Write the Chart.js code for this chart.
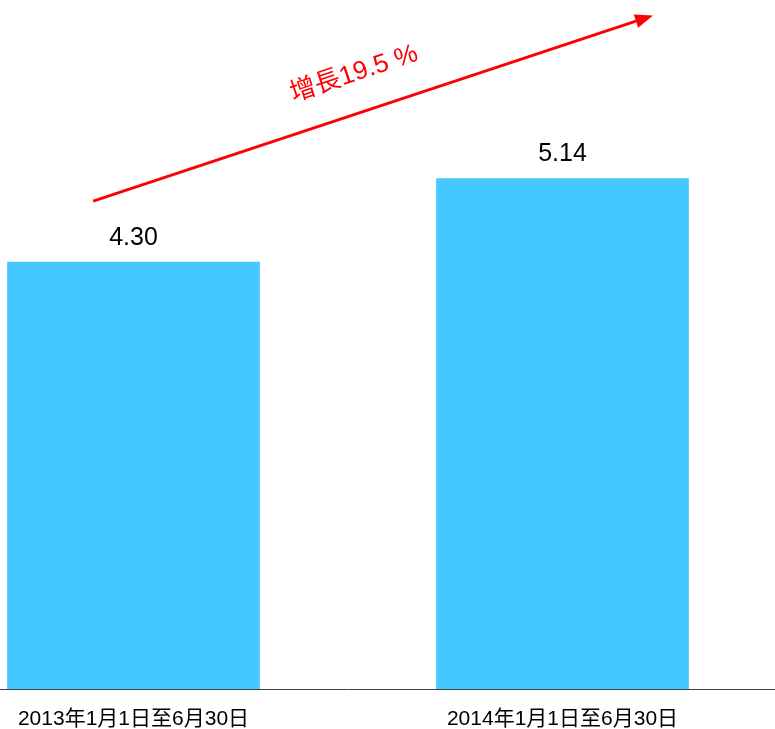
<!DOCTYPE html>
<html>
<head>
<meta charset="utf-8">
<script src="https://cdn.jsdelivr.net/npm/chart.js@4/dist/chart.umd.min.js"></script>
<style>
  html, body { margin: 0; padding: 0; background: #fff; overflow: hidden; }
  #wrap { position: absolute; left: -81px; top: 0; width: 858px; height: 729px; }
</style>
</head>
<body>
<div id="wrap"><canvas id="c"></canvas></div>
<script>
// Half-year totals
const periods = ['2013年1月1日至6月30日', '2014年1月1日至6月30日'];
const totals = [4.30, 5.14];
const growthLabel = '增長19.5 %';
// Growth arrow, in axis units: [category index, value]
const arrowFrom = [-0.094, 4.91];
const arrowTo = [1.211, 6.78];
const growthAnchor = [0.514, 6.19];

const FONT = '"Liberation Sans", Arial, "Noto Sans CJK TC", sans-serif';

const valueLabels = {
  id: 'valueLabels',
  afterDatasetsDraw(chart) {
    const ctx = chart.ctx;
    const meta = chart.getDatasetMeta(0);
    ctx.save();
    ctx.font = '25px ' + FONT;
    ctx.fillStyle = '#000';
    ctx.textAlign = 'center';
    ctx.textBaseline = 'alphabetic';
    meta.data.forEach((bar, i) => {
      ctx.fillText(totals[i].toFixed(2), bar.x, bar.y - 17);
    });
    ctx.restore();
  }
};

const growthArrow = {
  id: 'growthArrow',
  afterDraw(chart) {
    const ctx = chart.ctx;
    const xs = chart.scales.x, ys = chart.scales.y;
    const x1 = xs.getPixelForValue(arrowFrom[0]), y1 = ys.getPixelForValue(arrowFrom[1]);
    const x2 = xs.getPixelForValue(arrowTo[0]), y2 = ys.getPixelForValue(arrowTo[1]);
    const ang = Math.atan2(y2 - y1, x2 - x1);
    const headLen = 18, headW = 7;
    ctx.save();
    ctx.strokeStyle = '#ff0000';
    ctx.fillStyle = '#ff0000';
    ctx.lineWidth = 3;
    ctx.beginPath();
    ctx.moveTo(x1, y1);
    ctx.lineTo(x2 - Math.cos(ang) * headLen, y2 - Math.sin(ang) * headLen);
    ctx.stroke();
    ctx.beginPath();
    ctx.moveTo(x2, y2);
    const bx = x2 - Math.cos(ang) * headLen, by = y2 - Math.sin(ang) * headLen;
    ctx.lineTo(bx + Math.sin(ang) * headW, by - Math.cos(ang) * headW);
    ctx.lineTo(bx - Math.sin(ang) * headW, by + Math.cos(ang) * headW);
    ctx.closePath();
    ctx.fill();

    const tx = xs.getPixelForValue(growthAnchor[0]), ty = ys.getPixelForValue(growthAnchor[1]);
    ctx.translate(tx, ty);
    ctx.rotate(ang);
    ctx.font = '26px ' + FONT;
    ctx.textAlign = 'center';
    ctx.textBaseline = 'middle';
    ctx.fillText(growthLabel, 0, 0);
    ctx.restore();
  }
};

new Chart(document.getElementById('c'), {
  type: 'bar',
  data: {
    labels: periods,
    datasets: [{
      data: totals,
      backgroundColor: '#45c8ff',
      borderWidth: 0,
      barPercentage: 0.589,
      categoryPercentage: 1
    }]
  },
  options: {
    responsive: true,
    maintainAspectRatio: false,
    animation: false,
    layout: { padding: 0 },
    plugins: { legend: { display: false }, tooltip: { enabled: false } },
    scales: {
      x: {
        grid: { display: false, drawTicks: false },
        border: { display: true, color: '#404040', width: 1 },
        ticks: { color: '#000', font: { family: FONT, size: 21 }, padding: 18, maxRotation: 0 },
        afterFit(scale) { scale.height = 40; }
      },
      y: {
        display: false,
        min: 0,
        max: 6.935
      }
    }
  },
  plugins: [valueLabels, growthArrow]
});
</script>
</body>
</html>
